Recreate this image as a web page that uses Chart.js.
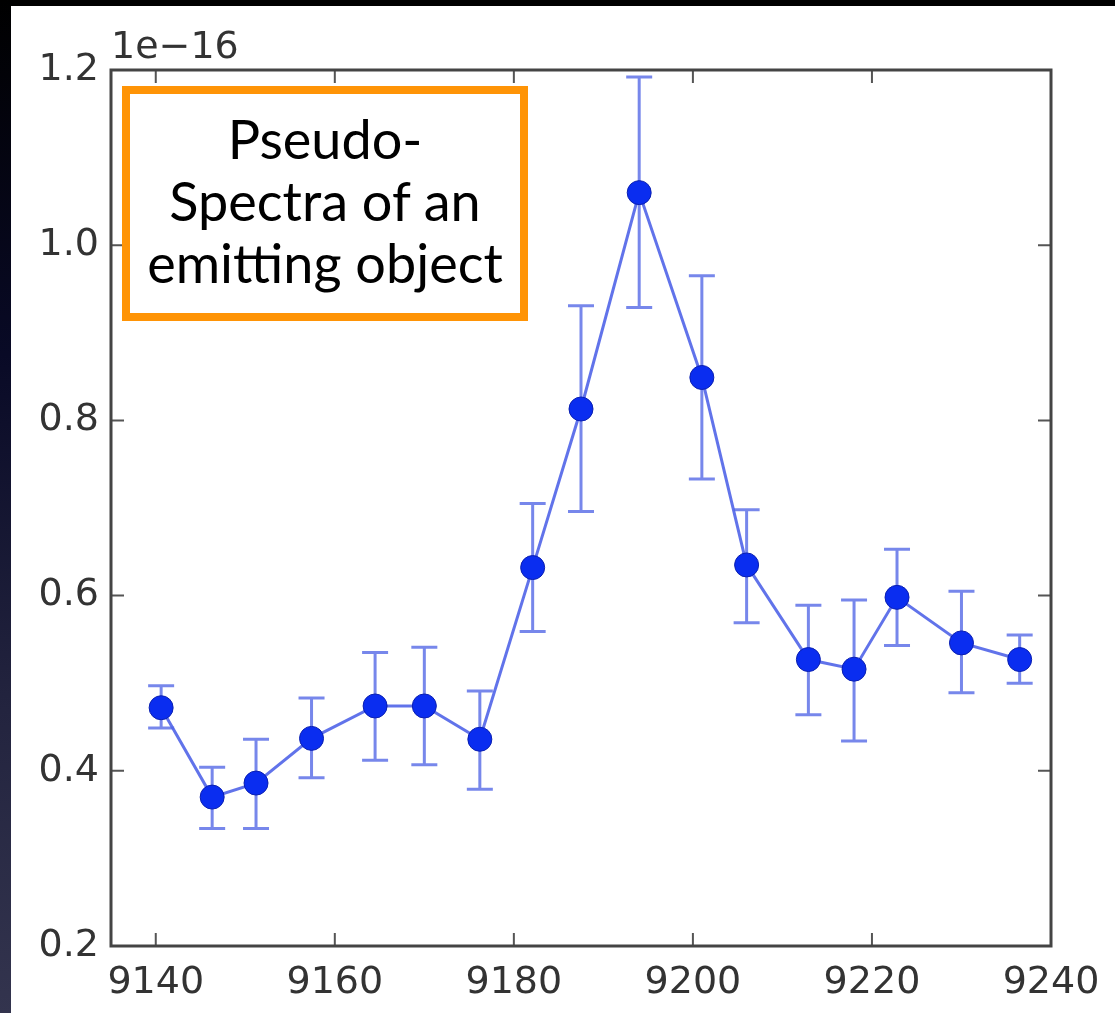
<!DOCTYPE html>
<html>
<head>
<meta charset="utf-8">
<script src="https://cdn.jsdelivr.net/npm/chart.js@4/dist/chart.umd.min.js"></script>
<style>
	html, body { margin: 0; padding: 0; background: #000; }
	#page { position: relative; width: 1115px; height: 1013px; overflow: hidden; }
	#strip { position: absolute; left: 0; top: 0; width: 11px; height: 1013px;
		background: linear-gradient(to bottom, #000 0%, #090a26 35%, #23243f 70%, #33344e 100%); }
	#paper { position: absolute; left: 11px; top: 6px; right: 0; bottom: 0; background: #fff; }
	#chart { position: absolute; left: 0; top: 0; }
	#note { position: absolute; left: 122px; top: 86px; width: 390px; height: 205px; padding-top: 14px;
		border: 8px solid #ff9406; background: #fff; box-sizing: content-box;
		font-family: Lato, "Open Sans", sans-serif; font-size: 54px; line-height: 62px;
		color: #000; text-align: center; }
	#note div { white-space: nowrap; }
</style>
</head>
<body>
<div id="page">
	<div id="strip"></div>
	<div id="paper"></div>
	<canvas id="chart" width="1115" height="1013"></canvas>
	<div id="note">
		<div>Pseudo-</div>
		<div>Spectra of an</div>
		<div>emitting object</div>
	</div>
</div>
<script>
(function(window, document, undefined) {
	// wavelength of each bin
	var wavelengths = [9140.6, 9146.3, 9151.2, 9157.4, 9164.5, 9170.0, 9176.2, 9182.1, 9187.5,
		9194.0, 9201.0, 9206.0, 9212.9, 9218.0, 9222.8, 9230.0, 9236.5];
	// flux, in units of 1e-16
	var flux = [0.472, 0.370, 0.386, 0.437, 0.474, 0.474, 0.436, 0.632, 0.813,
		1.060, 0.849, 0.635, 0.527, 0.516, 0.598, 0.546, 0.527];
	var errHigh = [0.497, 0.404, 0.436, 0.483, 0.535, 0.541, 0.491, 0.705, 0.931,
		1.192, 0.965, 0.698, 0.589, 0.595, 0.653, 0.605, 0.555];
	var errLow = [0.449, 0.334, 0.334, 0.392, 0.412, 0.407, 0.379, 0.559, 0.696,
		0.929, 0.733, 0.569, 0.464, 0.434, 0.543, 0.489, 0.500];
	var xTicks = [9140, 9160, 9180, 9200, 9220, 9240];
	var yTicks = [0.2, 0.4, 0.6, 0.8, 1.0, 1.2];
	var offsetLabel = '1e\u221216';

	var points = wavelengths.map(function(w, i) {
		return { x: w, y: flux[i] };
	});

	var errorBars = {
		id: 'errorBars',
		beforeDatasetsDraw: function(chart) {
			var ctx = chart.ctx;
			var xs = chart.scales.x;
			var ys = chart.scales.y;
			ctx.save();
			ctx.strokeStyle = 'rgba(85, 105, 230, 0.8)';
			ctx.lineWidth = 3;
			wavelengths.forEach(function(w, i) {
				var px = xs.getPixelForValue(w);
				var top = ys.getPixelForValue(errHigh[i]);
				var bot = ys.getPixelForValue(errLow[i]);
				ctx.beginPath();
				ctx.moveTo(px, top);
				ctx.lineTo(px, bot);
				ctx.moveTo(px - 13, top);
				ctx.lineTo(px + 13, top);
				ctx.moveTo(px - 13, bot);
				ctx.lineTo(px + 13, bot);
				ctx.stroke();
			});
			ctx.restore();
		}
	};

	var frame = {
		id: 'frame',
		afterDraw: function(chart) {
			var ctx = chart.ctx;
			var a = chart.chartArea;
			var xs = chart.scales.x;
			var ys = chart.scales.y;
			ctx.save();
			ctx.strokeStyle = '#555';
			ctx.lineWidth = 2;
			xTicks.forEach(function(t) {
				var px = xs.getPixelForValue(t);
				ctx.beginPath();
				ctx.moveTo(px, a.bottom);
				ctx.lineTo(px, a.bottom - 13);
				ctx.moveTo(px, a.top);
				ctx.lineTo(px, a.top + 13);
				ctx.stroke();
			});
			yTicks.forEach(function(t) {
				var py = ys.getPixelForValue(t);
				ctx.beginPath();
				ctx.moveTo(a.left, py);
				ctx.lineTo(a.left + 13, py);
				ctx.moveTo(a.right, py);
				ctx.lineTo(a.right - 13, py);
				ctx.stroke();
			});
			ctx.strokeStyle = '#444';
			ctx.lineWidth = 3;
			ctx.strokeRect(a.left, a.top, a.right - a.left, a.bottom - a.top);
			ctx.fillStyle = '#333';
			ctx.font = '38px "DejaVu Sans"';
			ctx.textAlign = 'left';
			ctx.textBaseline = 'alphabetic';
			ctx.fillText(offsetLabel, a.left, a.top - 12);
			ctx.restore();
		}
	};

	var ctx = document.querySelector('#chart');
	var spectrum = new Chart(ctx, {
		type: 'line',
		data: {
			datasets: [{
				data: points,
				borderColor: 'rgba(80, 100, 232, 0.9)',
				borderWidth: 3,
				pointRadius: 12,
				pointBackgroundColor: '#0a2df0',
				pointBorderColor: '#0a1fb0',
				pointBorderWidth: 1,
				tension: 0
			}]
		},
		options: {
			responsive: false,
			animation: false,
			devicePixelRatio: 1,
			layout: { padding: { top: 70, right: 64, left: 0, bottom: 0 } },
			plugins: { legend: { display: false }, tooltip: { enabled: false } },
			scales: {
				x: {
					type: 'linear',
					min: 9135,
					max: 9240,
					afterBuildTicks: function(scale) {
						scale.ticks = xTicks.map(function(v) { return { value: v }; });
					},
					afterFit: function(scale) { scale.height = 67; },
					grid: { display: false },
					border: { display: false },
					ticks: {
						color: '#333',
						padding: 6,
						maxRotation: 0,
						font: { family: '"DejaVu Sans", sans-serif', size: 38 },
						callback: function(v) { return String(v); }
					}
				},
				y: {
					type: 'linear',
					min: 0.2,
					max: 1.2,
					afterBuildTicks: function(scale) {
						scale.ticks = yTicks.map(function(v) { return { value: v }; });
					},
					afterFit: function(scale) { scale.width = 111; },
					grid: { display: false },
					border: { display: false },
					ticks: {
						color: '#333',
						padding: 4,
						font: { family: '"DejaVu Sans", sans-serif', size: 38 },
						callback: function(v) { return v.toFixed(1); }
					}
				}
			}
		},
		plugins: [errorBars, frame]
	});
})(window, document);
</script>
</body>
</html>
